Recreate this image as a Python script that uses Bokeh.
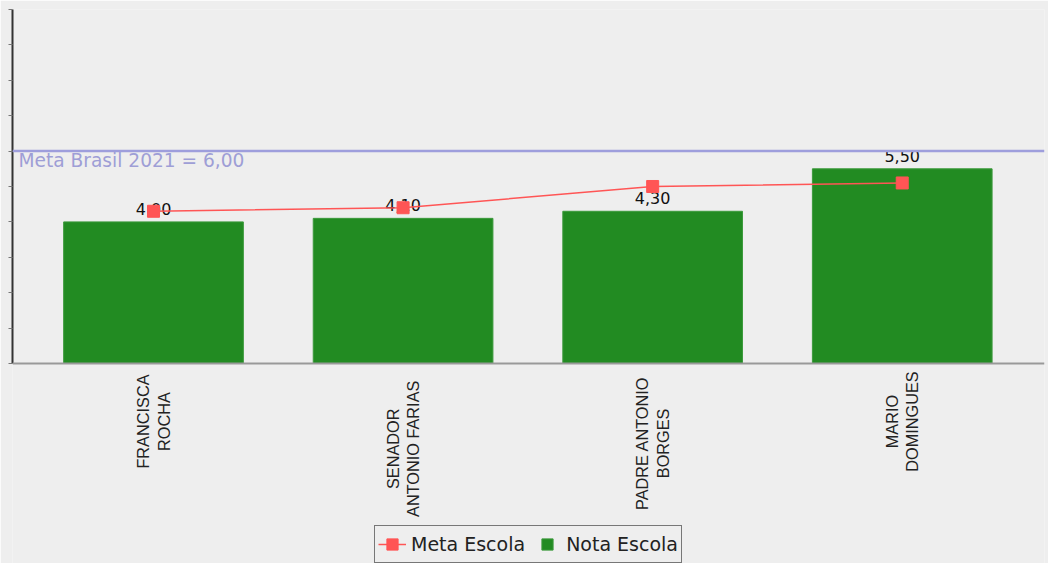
import math
from bokeh.plotting import figure
from bokeh.models import (Range1d, FixedTicker, Span, Label, Legend, LegendItem,
                          ColumnDataSource)
from bokeh.core.properties import value
from bokeh.embed import file_html
from bokeh.resources import INLINE

# ---- data ----
escolas = ["FRANCISCA\nROCHA", "SENADOR\nANTONIO FARIAS",
           "PADRE ANTONIO\nBORGES", "MARIO\nDOMINGUES"]
nota_escola = [4.0, 4.1, 4.3, 5.5]
meta_escola = [4.3, 4.4, 5.0, 5.1]
meta_brasil = 6.0
meta_brasil_label = "Meta Brasil 2021 = 6,00"
y_ticks = [0, 1, 2, 3, 4, 5, 6, 7, 8, 9, 10]

BG = "#EEEEEE"
xs = list(range(len(escolas)))
labels = [f"{v:.2f}".replace(".", ",") for v in nota_escola]
src = ColumnDataSource(dict(x=xs, nota=nota_escola, meta=meta_escola, lab=labels))

# category labels drawn below the axis line (centered lines, top-anchored block)
CHAR_PX = 10.9
cat_off = [9 + CHAR_PX * max(len(s) for s in n.split("\n")) / 2 for n in escolas]
cat_src = ColumnDataSource(dict(x=xs, y=[0] * len(xs), t=escolas, off=cat_off))

p = figure(width=1048, height=563, output_backend="svg", toolbar_location=None,
           x_range=Range1d(-0.565, 3.57), y_range=Range1d(-5.65, 10),
           background_fill_color=BG, border_fill_color=BG,
           min_border_left=12, min_border_top=9, min_border_right=4,
           min_border_bottom=0, outline_line_color=None)
p.grid.visible = False
p.xaxis.visible = False

# y axis (only spanning 0..10)
p.yaxis.bounds = (0, 10)
p.yaxis.ticker = FixedTicker(ticks=y_ticks)
p.yaxis.major_label_overrides = {t: "" for t in y_ticks}
p.yaxis.major_label_standoff = 0
p.yaxis.axis_line_color = "#333333"
p.yaxis.axis_line_width = 2
p.yaxis.major_tick_line_color = "#777777"
p.yaxis.major_tick_out = 4
p.yaxis.major_tick_in = 0
p.yaxis.minor_tick_line_color = None

# x axis line
p.add_layout(Span(location=0, dimension="width", line_color="#999999",
                  line_width=2))

# category labels
p.text(x="x", y="y", text="t", source=cat_src, angle=math.pi / 2,
       text_align="center", text_baseline="middle", y_offset="off",
       text_font=value("Liberation Sans"), text_font_size="16.3px",
       text_color="#222222", text_line_height=1.14)

# meta brasil line
p.add_layout(Span(location=meta_brasil, dimension="width", line_color="#9E9EDC",
                  line_width=2.5))
p.add_layout(Label(x=6, y=meta_brasil, x_units="screen", y_offset=1,
                   text=meta_brasil_label, text_baseline="top",
                   text_font="DejaVu Sans", text_font_size="18.6px",
                   text_color="#9E9ED6"))

bars = p.vbar(x="x", top="nota", width=0.72, source=src, fill_color="#228B22",
              line_color="#3C9A3C", line_width=1)
p.text(x="x", y="nota", text="lab", source=src, text_align="center",
       text_baseline="bottom", y_offset=-7, text_font=value("DejaVu Sans"),
       text_font_size="16px", text_color="#111111")
ln = p.line(x="x", y="meta", source=src, line_color="#FF5555", line_width=1.5)
mk = p.scatter(x="x", y="meta", source=src, marker="square", size=12,
               fill_color="#FF5555", line_color="#FF5555")
# legend swatch for the bars (small square, as in the original); hidden renderer
nota_key = p.scatter(x="x", y="nota", source=src, marker="square", size=12,
                     fill_color="#228B22", line_color="#3C9A3C", visible=False)

legend = Legend(items=[LegendItem(label="Meta Escola", renderers=[ln, mk]),
                       LegendItem(label="Nota Escola", renderers=[nota_key])],
                orientation="horizontal", location="bottom_center",
                border_line_color="#000000", border_line_width=1,
                background_fill_color=BG, background_fill_alpha=1,
                inactive_fill_alpha=0, click_policy="none",
                label_text_font="DejaVu Sans",
                label_text_font_size="19px", label_text_color="#222222",
                glyph_width=28, glyph_height=30, label_standoff=5,
                spacing=8, padding=3, margin=0)
p.add_layout(legend, "center")

open("out.html", "w").write(file_html(p, INLINE))
